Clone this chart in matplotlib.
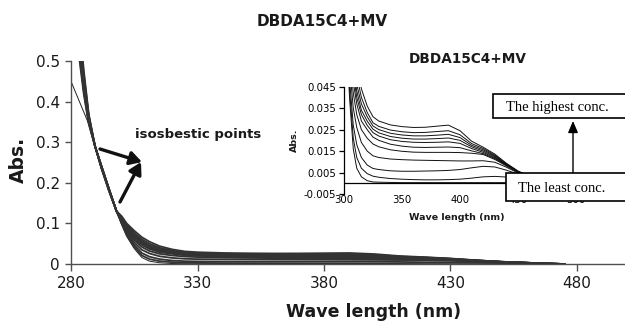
import matplotlib
matplotlib.use("Agg")
import matplotlib.pyplot as plt
from matplotlib.patches import Rectangle, FancyArrowPatch
from matplotlib.ticker import FuncFormatter

# ---------------- data ----------------
wavelength = [280, 283, 284, 285, 287, 289.5, 292, 295, 298, 300, 302, 305, 308, 311, 315, 320,
              325, 330, 340, 350, 360, 370, 380, 390, 400, 410, 420, 430, 440, 450, 460, 470, 475]

abs_c00 = [0.45, 0.405, 0.39, 0.375, 0.345, 0.29, 0.244, 0.187, 0.130, 0.097, 0.068, 0.038, 0.016, 0.007, 0.003, 0.0012,
           0.0006, 0.0005, 0.0004, 0.0003, 0.0003, 0.0003, 0.0003, 0.0003, 0.0003, 0.0003, 0.0003, 0.0003, 0.0003, 0.0002, 0.0002, 0.0001, 0.0]
abs_c01 = [0.72, 0.52, 0.47, 0.42, 0.345, 0.29, 0.243, 0.186, 0.130, 0.100, 0.072, 0.042, 0.021, 0.012, 0.007, 0.0045,
           0.0033, 0.0028, 0.0022, 0.0019, 0.0017, 0.0016, 0.0016, 0.0017, 0.0019, 0.0024, 0.0030, 0.0032, 0.0029, 0.0023, 0.0016, 0.0004, 0.0]
abs_c02 = [0.76, 0.53, 0.48, 0.43, 0.348, 0.29, 0.242, 0.185, 0.130, 0.102, 0.076, 0.047, 0.027, 0.018, 0.012, 0.0085,
           0.0069, 0.0064, 0.0058, 0.0056, 0.0056, 0.0057, 0.0058, 0.0060, 0.0064, 0.0072, 0.0079, 0.0076, 0.0061, 0.0043, 0.0026, 0.0006, 0.0]
abs_c03 = [0.79, 0.55, 0.49, 0.43, 0.350, 0.29, 0.241, 0.185, 0.130, 0.105, 0.080, 0.053, 0.035, 0.026, 0.019, 0.015,
           0.0128, 0.0120, 0.0113, 0.0110, 0.0108, 0.0107, 0.0106, 0.0105, 0.0104, 0.0104, 0.0105, 0.0098, 0.0075, 0.0048, 0.0028, 0.0007, 0.0]
abs_c04 = [0.83, 0.56, 0.50, 0.44, 0.353, 0.29, 0.241, 0.184, 0.130, 0.107, 0.084, 0.059, 0.042, 0.032, 0.025, 0.021,
           0.0183, 0.0170, 0.0156, 0.0149, 0.0145, 0.0144, 0.0144, 0.0144, 0.0143, 0.0140, 0.0134, 0.0111, 0.0081, 0.0051, 0.0029, 0.0008, 0.0]
abs_c05 = [0.86, 0.57, 0.51, 0.45, 0.356, 0.29, 0.240, 0.183, 0.130, 0.109, 0.087, 0.063, 0.047, 0.037, 0.029, 0.025,
           0.0215, 0.0200, 0.0182, 0.0173, 0.0168, 0.0167, 0.0168, 0.0169, 0.0166, 0.0151, 0.0138, 0.0115, 0.0083, 0.0052, 0.0030, 0.0008, 0.0]
abs_c06 = [0.90, 0.59, 0.51, 0.45, 0.359, 0.29, 0.239, 0.183, 0.130, 0.111, 0.090, 0.067, 0.051, 0.040, 0.032, 0.027,
           0.0236, 0.0220, 0.0203, 0.0195, 0.0191, 0.0190, 0.0191, 0.0193, 0.0186, 0.0162, 0.0144, 0.0119, 0.0085, 0.0053, 0.0030, 0.0008, 0.0]
abs_c07 = [0.93, 0.60, 0.52, 0.46, 0.362, 0.29, 0.239, 0.182, 0.130, 0.113, 0.092, 0.070, 0.054, 0.043, 0.034, 0.029,
           0.0252, 0.0235, 0.0218, 0.0210, 0.0206, 0.0206, 0.0208, 0.0211, 0.0200, 0.0170, 0.0150, 0.0123, 0.0087, 0.0054, 0.0031, 0.0008, 0.0]
abs_c08 = [0.97, 0.61, 0.53, 0.46, 0.364, 0.29, 0.238, 0.181, 0.130, 0.114, 0.094, 0.073, 0.057, 0.046, 0.037, 0.031,
           0.0267, 0.0250, 0.0233, 0.0225, 0.0221, 0.0221, 0.0224, 0.0228, 0.0213, 0.0177, 0.0156, 0.0127, 0.0089, 0.0055, 0.0031, 0.0008, 0.0]
abs_c09 = [1.00, 0.63, 0.54, 0.47, 0.367, 0.29, 0.237, 0.181, 0.130, 0.116, 0.097, 0.077, 0.061, 0.050, 0.040, 0.033,
           0.0282, 0.0265, 0.0248, 0.0240, 0.0236, 0.0237, 0.0241, 0.0245, 0.0226, 0.0185, 0.0162, 0.0131, 0.0091, 0.0056, 0.0032, 0.0008, 0.0]
abs_c10 = [1.04, 0.64, 0.55, 0.48, 0.370, 0.29, 0.236, 0.180, 0.130, 0.118, 0.100, 0.082, 0.066, 0.055, 0.044, 0.036,
           0.0310, 0.0290, 0.0272, 0.0264, 0.0260, 0.0261, 0.0266, 0.0271, 0.0245, 0.0196, 0.0168, 0.0136, 0.0093, 0.0057, 0.0032, 0.0008, 0.0]

spectra = [abs_c00, abs_c01, abs_c02, abs_c03, abs_c04, abs_c05,
           abs_c06, abs_c07, abs_c08, abs_c09, abs_c10]

main_xticks = [280, 330, 380, 430, 480]
main_yticks = [0, 0.1, 0.2, 0.3, 0.4, 0.5]
inset_xticks = [300, 350, 400, 450, 500]
inset_yticks = [-0.005, 0.005, 0.015, 0.025, 0.035, 0.045]

title_text = "DBDA15C4+MV"
xlabel_text = "Wave length (nm)"
ylabel_text = "Abs."
note_text = "isosbestic points"
high_text = "The highest conc."
low_text = "The least conc."

# ---------------- figure ----------------
W, H = 625, 324
plt.rcParams['font.family'] = ['DejaVu Sans']
fig = plt.figure(figsize=(W / 100, H / 100), dpi=100)


def fx(px):
    return px / W


def fy(py):
    return 1 - py / H


# main axes
axm = fig.add_axes([fx(71), fy(264), (240 * 2.53) / W, (264 - 61) / H])
for i, s in enumerate(spectra):
    if i == 0:
        axm.plot(wavelength, s, color='#222222', lw=0.7, zorder=2)
    else:
        axm.plot(wavelength, s, color='#333333', lw=1.3, zorder=3)
axm.set_xlim(280, 520)
axm.set_ylim(0, 0.5)
axm.set_xticks(main_xticks)
axm.set_yticks(main_yticks)
axm.yaxis.set_major_formatter(FuncFormatter(lambda v, p: f"{v:g}"))
axm.spines['top'].set_visible(False)
axm.spines['right'].set_visible(False)
for sp in ('left', 'bottom'):
    axm.spines[sp].set_color('#505050')
    axm.spines[sp].set_linewidth(1.0)
axm.tick_params(axis='y', direction='out', length=4, width=1, color='#505050',
                labelsize=11, pad=4, labelcolor='#1a1a1a')
axm.tick_params(axis='x', direction='out', length=5, width=1, color='#505050',
                labelsize=11, pad=4, labelcolor='#1a1a1a')

fig.text(fx(322), fy(21), title_text, ha='center', va='center',
         fontsize=11, fontweight='bold', color='#1a1a1a')
fig.text(fx(374), fy(312), xlabel_text, ha='center', va='center',
         fontsize=12.5, fontweight='bold', color='#1a1a1a')
fig.text(fx(18.5), fy(160), ylabel_text, ha='center', va='center', rotation=90,
         fontsize=13.5, fontweight='bold', color='#1a1a1a')
fig.text(fx(198), fy(134), note_text, ha='center', va='center',
         fontsize=9.5, fontweight='bold', color='#1a1a1a')

# isosbestic arrows
arrow_kw = dict(arrowstyle='-|>,head_length=0.7,head_width=0.4', lw=2.4, color='#111111',
                shrinkA=0, shrinkB=0, mutation_scale=10)
fig.add_artist(FancyArrowPatch((fx(100), fy(149)), (fx(142), fy(162)),
                               transform=fig.transFigure, **arrow_kw))
fig.add_artist(FancyArrowPatch((fx(120), fy(202)), (fx(141), fy(162)),
                               transform=fig.transFigure, **arrow_kw))

# inset axes
axi = fig.add_axes([fx(344), fy(194), (576 - 344) / W, (194 - 86.7) / H])
for s in spectra:
    axi.plot(wavelength, s, color='#111111', lw=0.7)
axi.axhline(0, color='black', lw=0.9)
axi.set_xlim(300, 500)
axi.set_ylim(-0.005, 0.045)
axi.set_xticks(inset_xticks)
axi.set_yticks(inset_yticks)
axi.yaxis.set_major_formatter(FuncFormatter(lambda v, p: f"{v:.3f}"))
for sp in ('top', 'right', 'bottom'):
    axi.spines[sp].set_visible(False)
axi.spines['left'].set_linewidth(0.9)
axi.tick_params(axis='y', direction='out', length=3.5, width=0.9, labelsize=7.3, pad=2)
axi.tick_params(axis='x', length=0, labelsize=7.3, pad=0.5)
axi.patch.set_alpha(0)

fig.text(fx(468), fy(59), title_text, ha='center', va='center',
         fontsize=9.8, fontweight='bold', color='#1a1a1a')
fig.text(fx(457), fy(218), xlabel_text, ha='center', va='center',
         fontsize=6.8, fontweight='bold', color='#1a1a1a')
fig.text(fx(294), fy(140), ylabel_text, ha='center', va='center', rotation=90,
         fontsize=6.8, fontweight='bold', color='#1a1a1a')

# concentration boxes and arrow
fig.add_artist(Rectangle((fx(493), fy(118)), fx(200), (118 - 94) / H, transform=fig.transFigure,
                         fc='white', ec='black', lw=1.2, zorder=10))
fig.add_artist(Rectangle((fx(506), fy(200.5)), fx(200), (200.5 - 173.3) / H, transform=fig.transFigure,
                         fc='white', ec='black', lw=1.2, zorder=10))
fig.text(fx(505.5), fy(107), high_text, ha='left', va='center', fontsize=10.5,
         family=['Liberation Serif'], zorder=11)
fig.text(fx(518), fy(188), low_text, ha='left', va='center', fontsize=10.5,
         family=['Liberation Serif'], zorder=11)
fig.add_artist(FancyArrowPatch((fx(573), fy(173.3)), (fx(573), fy(121)),
                               transform=fig.transFigure,
                               arrowstyle='-|>,head_length=0.7,head_width=0.3',
                               mutation_scale=10, lw=1.0, color='black',
                               shrinkA=0, shrinkB=0, zorder=9))

fig.savefig("out.png", dpi=100)
